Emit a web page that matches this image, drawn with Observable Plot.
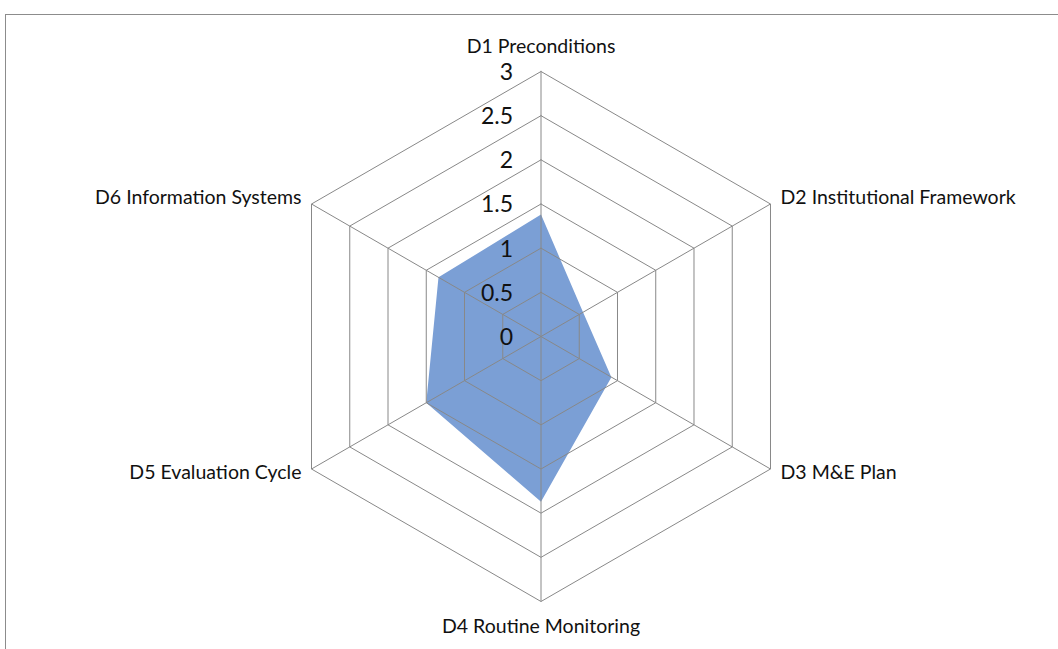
<!DOCTYPE html>
<html>
<head>
<meta charset="utf-8">
<script src="https://cdn.jsdelivr.net/npm/d3@7"></script>
<script src="https://cdn.jsdelivr.net/npm/@observablehq/plot@0.6"></script>
<style>
  html, body { margin: 0; padding: 0; background: #fff; }
  #wrap { position: relative; width: 1058px; height: 649px; overflow: hidden; }
  #frame { position: absolute; left: 5px; top: 14px; width: 1100px; height: 700px;
           border-left: 1px solid #8c8c8c; border-top: 1px solid #8c8c8c; }
  #chart { position: absolute; left: 0; top: 0; }
</style>
</head>
<body>
<div id="wrap"><div id="frame"></div><div id="chart"></div></div>
<script>
// ---- data ----
const categories = ["D1 Preconditions", "D2 Institutional Framework", "D3 M&E Plan",
                    "D4 Routine Monitoring", "D5 Evaluation Cycle", "D6 Information Systems"];
const values = [1.38, 0.55, 0.92, 1.87, 1.5, 1.34];
const tickValues = [0, 0.5, 1, 1.5, 2, 2.5, 3];
const tickLabels = ["0", "0.5", "1", "1.5", "2", "2.5", "3"];
const maxValue = 3;

// label offsets (pixels) and anchors per axis
const labelDx = [0, 10, 10, 0, -10, -10];
const labelDy = [-25, -6, 4, 25, 4, -6];
const labelAnchor = ["middle", "start", "start", "middle", "end", "end"];

// ---- geometry helpers (data space, y up) ----
const n = categories.length;
const ang = i => (i * 2 * Math.PI) / n;
const px = (i, v) => v * Math.sin(ang(i));
const py = (i, v) => v * Math.cos(ang(i));

const series = values.map((v, i) => ({x: px(i, v), y: py(i, v)}));
series.push(series[0]);

const rings = [];
tickValues.filter(t => t > 0).forEach(t => {
  for (let i = 0; i <= n; i++) rings.push({level: t, x: px(i % n, t), y: py(i % n, t)});
});

const spokes = categories.map((c, i) => ({x1: 0, y1: 0, x2: px(i, maxValue), y2: py(i, maxValue)}));
const ticks = tickValues.map((t, k) => ({x: 0, y: t, label: tickLabels[k]}));
const labels = categories.map((c, i) => ({x: px(i, maxValue), y: py(i, maxValue), label: c,
  dx: labelDx[i], dy: labelDy[i], anchor: labelAnchor[i]}));

const cx = 540.5, cy = 336, R = 265;
const font = "Lato, 'Noto Sans', sans-serif";

const chart = Plot.plot({
  width: 1058,
  height: 649,
  style: {background: "transparent", fontFamily: font},
  x: {domain: [-maxValue, maxValue], range: [cx - R, cx + R], axis: null},
  y: {domain: [-maxValue, maxValue], range: [cy + R, cy - R], axis: null},
  marks: [
    Plot.line(series, {x: "x", y: "y", fill: "#7b9fd5", stroke: "none", curve: "linear-closed"}),
    Plot.line(rings, {x: "x", y: "y", z: "level", stroke: "#888888", strokeWidth: 1}),
    Plot.link(spokes, {x1: "x1", y1: "y1", x2: "x2", y2: "y2", stroke: "#888888", strokeWidth: 1}),
    Plot.text(ticks, {x: "x", y: "y", text: "label", dx: -28, dy: 1, textAnchor: "end",
      fontSize: 23, fill: "#111"}),
    ...labels.map(l => Plot.text([l], {x: "x", y: "y", text: "label", dx: l.dx, dy: l.dy,
      textAnchor: l.anchor, fontSize: 19.5, fill: "#111"}))
  ]
});
document.getElementById("chart").appendChild(chart);
</script>
</body>
</html>
